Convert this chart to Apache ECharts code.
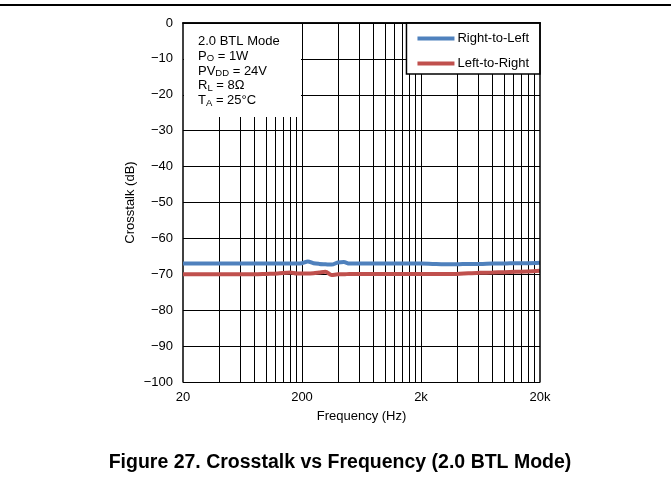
<!DOCTYPE html>
<html>
<head>
<meta charset="utf-8">
<script src="https://cdn.jsdelivr.net/npm/echarts@6/dist/echarts.min.js"></script>
<style>
html,body{margin:0;padding:0;background:#fff;}
#chart{width:671px;height:491px;}
</style>
</head>
<body>
<div id="chart"></div>
<script>
// ---- data ----
var freqs = [20, 25, 31.5, 40, 50, 63, 80, 100, 125, 160, 180, 200, 224, 250, 280, 315, 355, 400, 450, 500, 630, 800, 1000, 1250, 1600, 2000, 2500, 3150, 4000, 5000, 6300, 8000, 10000, 12500, 16000, 20000];
var rightToLeft = [-67.0, -67.0, -67.0, -67.0, -67.0, -67.0, -67.0, -67.0, -67.0, -67.0, -67.0, -66.9, -66.4, -66.9, -67.1, -67.2, -67.3, -66.7, -66.6, -67.0, -67.0, -67.0, -67.0, -67.0, -67.0, -67.0, -67.1, -67.2, -67.2, -67.1, -67.1, -67.0, -67.0, -66.9, -66.9, -66.8];
var leftToRight = [-70.0, -70.0, -70.0, -70.0, -70.0, -70.0, -70.0, -69.9, -69.8, -69.5, -69.8, -69.8, -69.8, -69.7, -69.5, -69.3, -70.2, -70.0, -70.0, -69.9, -69.9, -69.9, -69.9, -69.9, -69.9, -69.9, -69.9, -69.9, -69.9, -69.7, -69.6, -69.5, -69.4, -69.3, -69.2, -69.0];
var xTickValues = [20, 200, 2000, 20000];
var xTickLabels = ['20', '200', '2k', '20k'];
var xGridValues = [40, 60, 80, 100, 120, 140, 160, 180, 200, 400, 600, 800, 1000, 1200, 1400, 1600, 1800, 2000, 4000, 6000, 8000, 10000, 12000, 14000, 16000, 18000];
var seriesNames = ['Right-to-Left', 'Left-to-Right'];
var seriesColors = ['#4F81BD', '#C0504D'];
var noteLines = [
  '{m|2.0 BTL Mode}',
  '{m|P}{s|O}{m| = 1W}',
  '{m|PV}{s|DD}{m| = 24V}',
  '{m|R}{s|L}{m| = 8\u03A9}',
  '{m|T}{s|A}{m| = 25\u00B0C}'
];
var titleText = 'Figure 27. Crosstalk vs Frequency (2.0 BTL Mode)';

function pairs(xs, ys) { return xs.map(function (x, i) { return [x, ys[i]]; }); }

var FONT = 'Liberation Sans, Arial, sans-serif';
var chart = echarts.init(document.getElementById('chart'), null, {renderer: 'canvas'});
var option = {
  animation: false,
  backgroundColor: '#fff',
  textStyle: {fontFamily: FONT},
  grid: {left: 183, right: 131, top: 23, bottom: 109, containLabel: false},
  xAxis: [{
    type: 'log', logBase: 10, min: 20, max: 20000,
    position: 'bottom',
    name: 'Frequency (Hz)', nameLocation: 'middle', nameGap: 28, nameMoveOverlap: false,
    nameTextStyle: {color: '#000', fontSize: 13, fontFamily: FONT},
    axisLine: {show: true, lineStyle: {color: '#000', width: 1.5}},
    axisTick: {show: false},
    splitLine: {show: false},
    minorTick: {show: false}, minorSplitLine: {show: false},
    axisLabel: {
      color: '#000', fontSize: 13, margin: 9, fontFamily: FONT,
      customValues: xTickValues,
      formatter: function (v) { var i = xTickValues.indexOf(Math.round(v)); return i >= 0 ? xTickLabels[i] : ''; }
    }
  }, {
    type: 'log', logBase: 10, min: 20, max: 20000, position: 'top', z: 10,
    axisLine: {show: true, onZero: false, lineStyle: {color: '#000', width: 1.5}},
    axisTick: {show: false}, axisLabel: {show: false}, splitLine: {show: false}
  }],
  yAxis: [{
    type: 'value', min: -100, max: 0, interval: 10,
    name: 'Crosstalk (dB)', nameLocation: 'middle', nameGap: 46, nameMoveOverlap: false,
    nameTextStyle: {color: '#000', fontSize: 13, fontFamily: FONT},
    axisLine: {show: true, onZero: false, lineStyle: {color: '#000', width: 1.5}},
    axisTick: {show: false},
    splitLine: {show: true, lineStyle: {color: '#000', width: 1}},
    axisLabel: {color: '#000', fontSize: 13, margin: 10, fontFamily: FONT,
      formatter: function (v) { return String(v).replace('-', '\u2212'); }}
  }, {
    type: 'value', min: -100, max: 0, interval: 10, position: 'right', z: 10,
    axisLine: {show: true, onZero: false, lineStyle: {color: '#000', width: 1.5}},
    axisTick: {show: false}, axisLabel: {show: false}, splitLine: {show: false}
  }],
  legend: {
    orient: 'vertical', right: 131, top: 23, z: 7,
    data: seriesNames,
    icon: 'rect', itemWidth: 37, itemHeight: 4, itemGap: 12,
    padding: [9, 11, 4, 11],
    backgroundColor: '#fff', borderColor: '#000', borderWidth: 1.5, borderRadius: 0,
    textStyle: {color: '#000', fontSize: 13, fontFamily: FONT, padding: [0, 0, 0, -2]}
  },
  series: [{
    name: seriesNames[0], type: 'line', data: pairs(freqs, rightToLeft),
    showSymbol: false, symbol: 'none', smooth: 0.3, z: 3,
    lineStyle: {color: seriesColors[0], width: 4}, itemStyle: {color: seriesColors[0]}
  }, {
    name: seriesNames[1], type: 'line', data: pairs(freqs, leftToRight),
    showSymbol: false, symbol: 'none', smooth: 0.3, z: 3,
    lineStyle: {color: seriesColors[1], width: 4}, itemStyle: {color: seriesColors[1]}
  }, {
    name: 'grid', type: 'line', data: [], silent: true,
    markLine: {
      silent: true, symbol: 'none', z: 1, animation: false,
      label: {show: false},
      lineStyle: {color: '#000', width: 1, type: 'solid'},
      emphasis: {disabled: true},
      data: xGridValues.map(function (v) { return {xAxis: v}; })
    }
  }],
  graphic: [
    {type: 'line', z: 20, shape: {x1: 0, y1: 5, x2: 671, y2: 5}, style: {stroke: '#000', lineWidth: 2}},
    {type: 'rect', z: 6, shape: {x: 184, y: 24, width: 117, height: 93}, style: {fill: '#fff'}},
    {type: 'text', z: 7, left: 198, top: 34,
      style: {
        text: noteLines.join('\n'),
        fill: '#000', font: '13px ' + FONT, lineHeight: 14.8,
        rich: {
          m: {fontSize: 13, fontFamily: FONT, fill: '#000', lineHeight: 14.8},
          s: {fontSize: 9.5, fontFamily: FONT, fill: '#000', verticalAlign: 'bottom', lineHeight: 14.8, padding: [6, 0, 0, 0]}
        }
      }},
    {type: 'text', z: 7, x: 340, y: 463,
      style: {text: titleText, fill: '#000', font: 'bold 19.5px ' + FONT, textAlign: 'center', textVerticalAlign: 'middle'}}
  ]
};
chart.setOption(option);
</script>
</body>
</html>
